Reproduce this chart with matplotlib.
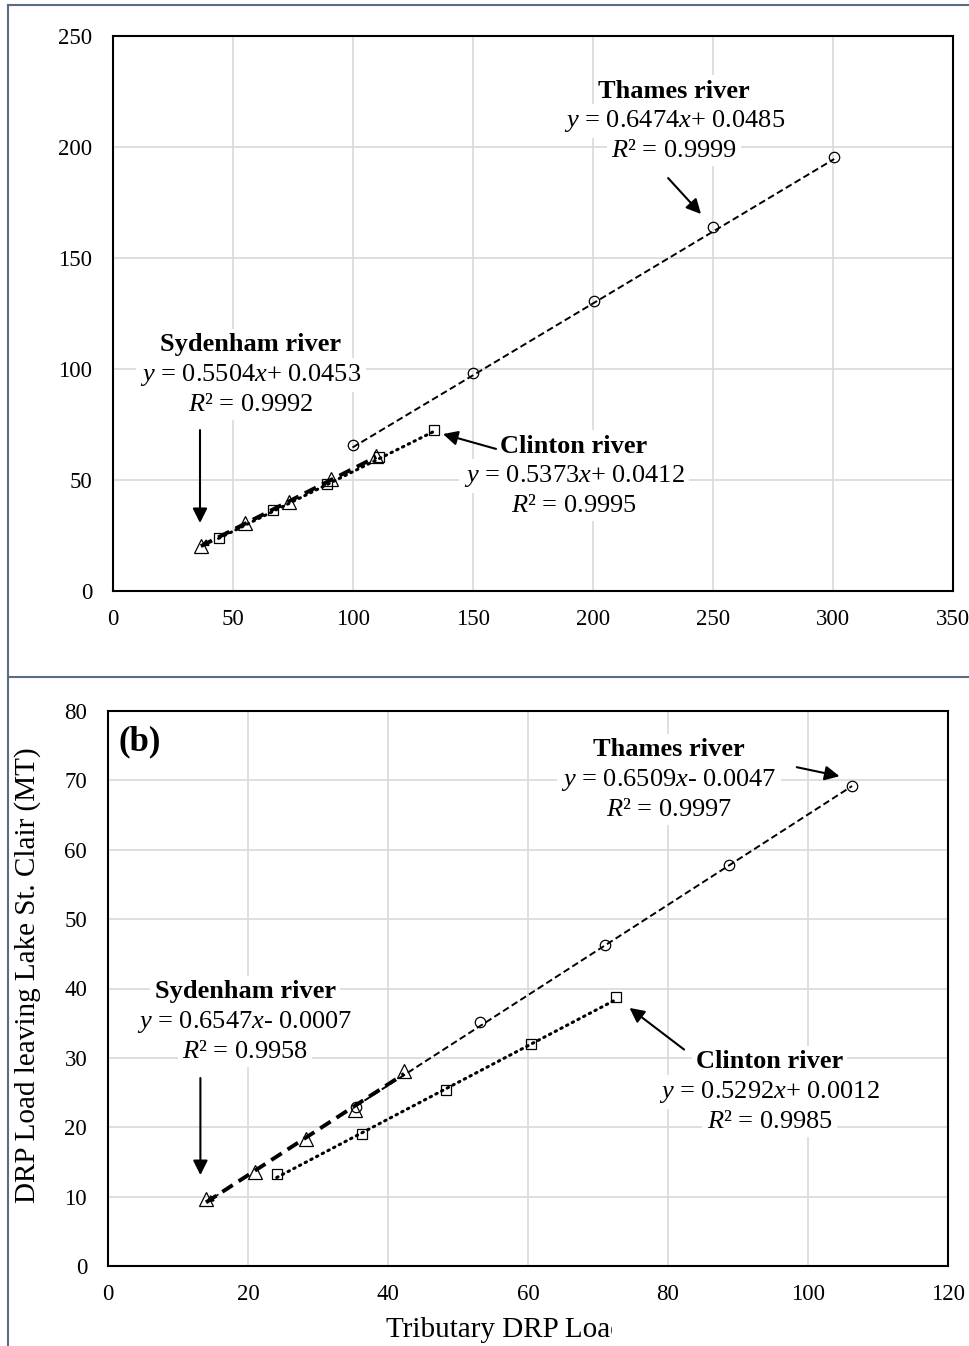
import numpy as np
import matplotlib
matplotlib.use("Agg")
import matplotlib.pyplot as plt
from matplotlib.lines import Line2D
from matplotlib.transforms import Bbox

plt.rcParams['font.family'] = ['Liberation Serif', 'DejaVu Serif']
plt.rcParams['mathtext.fontset'] = 'custom'
plt.rcParams['mathtext.rm'] = 'Liberation Serif'
plt.rcParams['mathtext.it'] = 'Liberation Serif:italic'
plt.rcParams['mathtext.bf'] = 'Liberation Serif:bold'

# (a) annual loads
thames_x_a = [99.8, 150.0, 200.3, 250.2, 300.5]
thames_y_a = [65.8, 98.2, 130.6, 164.0, 195.5]
syd_x_a = [36.6, 54.9, 73.2, 91.0, 109.7]
syd_y_a = [20.2, 30.6, 40.0, 50.6, 61.0]
clin_x_a = [44.0, 66.5, 89.0, 111.0, 133.8]
clin_y_a = [24.0, 36.5, 48.2, 60.4, 72.5]
fit_a = {'thames': (0.6474, 0.0485), 'syd': (0.5504, 0.0453), 'clin': (0.5373, 0.0412)}

# (b) loads
thames_x_b = [35.4, 53.2, 71.0, 88.7, 106.3]
thames_y_b = [22.9, 35.2, 46.3, 57.8, 69.2]
syd_x_b = [14.0, 21.0, 28.3, 35.3, 42.3]
syd_y_b = [9.6, 13.6, 18.3, 22.5, 28.1]
clin_x_b = [24.1, 36.3, 48.3, 60.4, 72.5]
clin_y_b = [13.3, 19.0, 25.3, 32.0, 38.8]
fit_b = {'thames': (0.6509, -0.0047), 'syd': (0.6547, -0.0007), 'clin': (0.5292, 0.0012)}

W, H = 969, 1346
fig = plt.figure(figsize=(W / 100, H / 100), dpi=100)


def px_axes(l, t, r, b):
    return fig.add_axes([l / W, 1 - b / H, (r - l) / W, (b - t) / H])


def eq_text(a, b):
    sign = '+' if b >= 0 else '-'
    return r'$\mathit{y}$ = %.4f$\mathit{x}$%s %.4f' % (a, sign, abs(b))


def label_block(ax, x, y, name, a, b, r2):
    off = 21.6
    box = dict(facecolor='white', edgecolor='none', pad=3)
    ax.annotate(name, (x, y), xytext=(0, off), textcoords='offset points',
                ha='center', va='center', fontsize=19, fontweight='bold',
                bbox=box, zorder=6)
    ax.annotate(eq_text(a, b), (x, y), xytext=(0, 0), textcoords='offset points',
                ha='center', va='center', fontsize=19, bbox=box, zorder=6)
    ax.annotate(r'$\mathit{R}$² = ' + r2, (x, y), xytext=(0, -off),
                textcoords='offset points', ha='center', va='center',
                fontsize=19, bbox=box, zorder=6)


def arrow(ax, tail, tip):
    ax.annotate('', xy=tip, xytext=tail,
                arrowprops=dict(arrowstyle='-|>', color='black', lw=1.5,
                                mutation_scale=22, shrinkA=0, shrinkB=0),
                zorder=7)


def draw_panel(ax, series, fits):
    styles = {
        'thames': dict(marker='o', ms=7.5, ls=(0, (3.5, 1.8)), lw=1.4),
        'syd': dict(marker='^', ms=10, ls=(0, (3.2, 1.8)), lw=2.8),
        'clin': dict(marker='s', ms=7, ls=(0, (0.5, 1.6)), lw=2.2),
    }
    for key, (xs, ys) in series.items():
        st = styles[key]
        ax.plot(xs, ys, ls='none', marker=st['marker'], ms=st['ms'],
                mfc='none', mec='black', mew=0.9, zorder=3)
        a, b = fits[key]
        xl = np.array([min(xs), max(xs)])
        ax.plot(xl, a * xl + b, color='black', ls=st['ls'], lw=st['lw'],
                dash_capstyle='round' if key == 'clin' else 'butt', zorder=4)
        if key == 'syd':
            x0 = min(xs)
            dx = (max(xs) - x0) * 0.06
            ax.annotate('', xy=(x0, a * x0 + b), xytext=(x0 + dx, a * (x0 + dx) + b),
                        arrowprops=dict(arrowstyle='-|>', color='black', lw=1.2,
                                        mutation_scale=10, shrinkA=0, shrinkB=0),
                        zorder=4)


def style_axes(ax, xmax, xstep, ymax, ystep):
    ax.set_xlim(0, xmax)
    ax.set_ylim(0, ymax)
    ax.set_xticks(np.arange(0, xmax + 1, xstep))
    ax.set_yticks(np.arange(0, ymax + 1, ystep))
    ax.grid(True, color='#d9d9d9', lw=1.2)
    ax.set_axisbelow(True)
    ax.tick_params(length=0, labelsize=16.5)
    ax.tick_params(axis='y', pad=15)
    ax.tick_params(axis='x', pad=13)
    for s in ax.spines.values():
        s.set_linewidth(1.5)
        s.set_color('black')


# top panel
ax1 = px_axes(113, 36, 953, 591)
style_axes(ax1, 350, 50, 250, 50)
draw_panel(ax1, {'thames': (thames_x_a, thames_y_a), 'syd': (syd_x_a, syd_y_a),
                 'clin': (clin_x_a, clin_y_a)}, fit_a)
label_block(ax1, 233.8, 211.7, 'Thames river', *fit_a['thames'], '0.9999')
arrow(ax1, (231.3, 186), (245, 169.8))
label_block(ax1, 57.5, 97.3, 'Sydenham river', *fit_a['syd'], '0.9992')
arrow(ax1, (36.25, 72.5), (36.25, 30.6))
label_block(ax1, 192.1, 51.8, 'Clinton river', *fit_a['clin'], '0.9995')
arrow(ax1, (159.6, 64), (137.5, 70.7))

# bottom panel
ax2 = px_axes(108, 711, 948, 1266)
style_axes(ax2, 120, 20, 80, 10)
draw_panel(ax2, {'thames': (thames_x_b, thames_y_b), 'syd': (syd_x_b, syd_y_b),
                 'clin': (clin_x_b, clin_y_b)}, fit_b)
ax2.text(1.5, 75.6, '(b)', fontsize=25, fontweight='bold', ha='left', va='center')
label_block(ax2, 80.1, 70.1, 'Thames river', *fit_b['thames'], '0.9997')
arrow(ax2, (98.4, 71.9), (104.5, 70.6))
label_block(ax2, 19.6, 35.2, 'Sydenham river', *fit_b['syd'], '0.9958')
arrow(ax2, (13.2, 27.1), (13.2, 13.1))
label_block(ax2, 94.5, 25.1, 'Clinton river', *fit_b['clin'], '0.9985')
arrow(ax2, (82.3, 31.2), (74.5, 37.2))

fig.text(28 / W, 1 - 975 / H, 'DRP Load leaving Lake St. Clair (MT)', rotation=90,
         ha='center', va='center', fontsize=21)
xl = fig.text(386 / W, 1 - 1330 / H, 'Tributary DRP Load (MT)', ha='left',
              va='center', fontsize=21)
xl.set_clip_box(Bbox.from_extents(0, 0, 612, H))
xl.set_clip_on(True)

# panel frame lines
frame = '#5b6b82'
fig.add_artist(Line2D([8 / W, 8 / W], [0, 1 - 5 / H], color=frame, lw=1.5))
fig.add_artist(Line2D([8 / W, 1], [1 - 5 / H, 1 - 5 / H], color=frame, lw=1.5))
fig.add_artist(Line2D([8 / W, 1], [1 - 677 / H, 1 - 677 / H], color=frame, lw=1.5))

fig.savefig('out.png', dpi=100)
